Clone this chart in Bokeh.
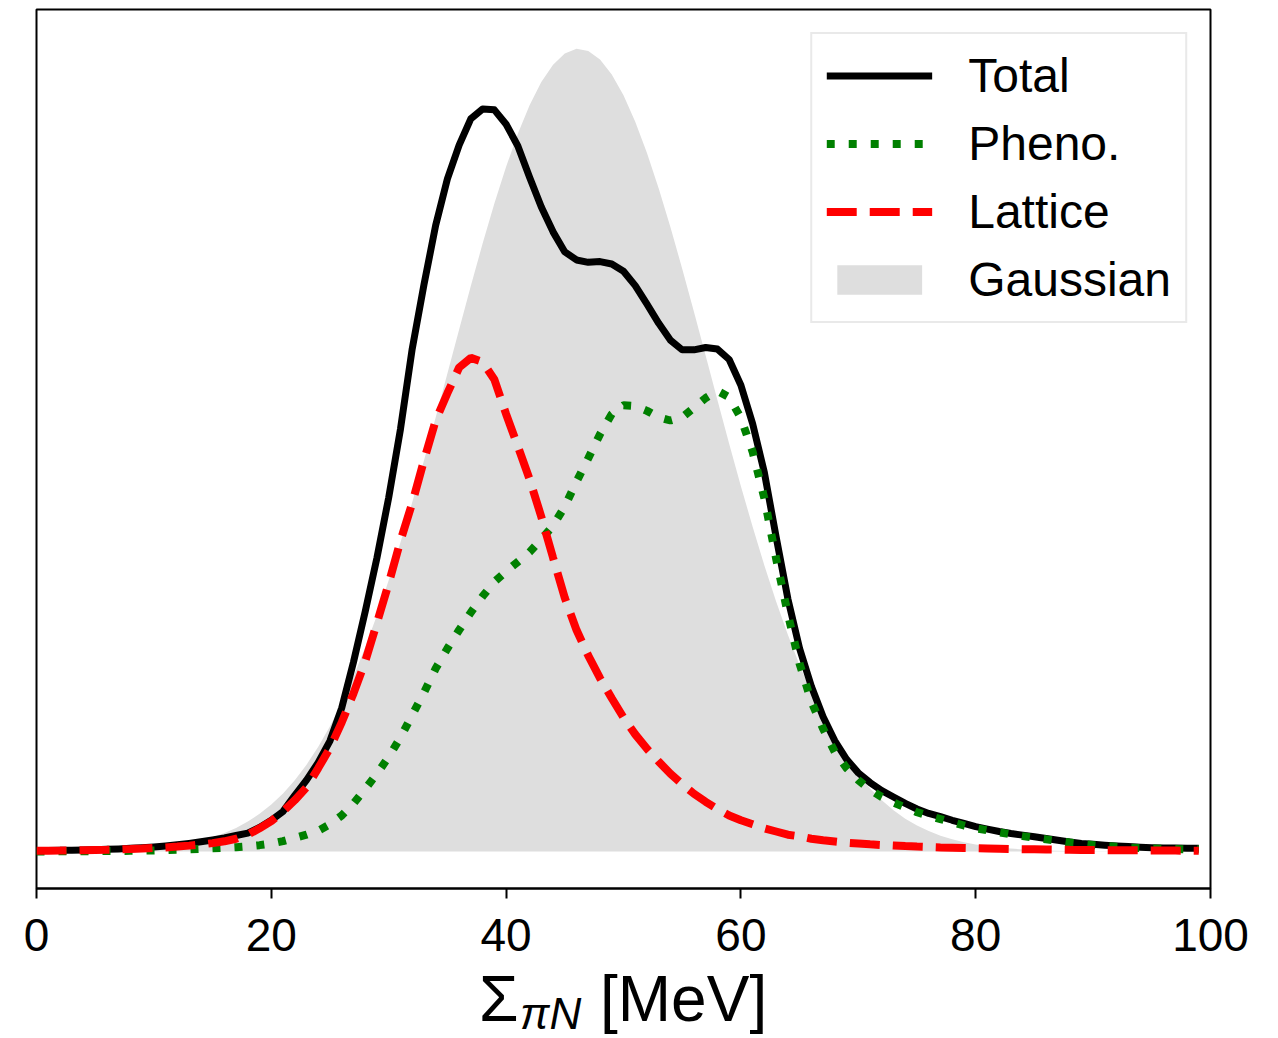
from bokeh.plotting import figure
from bokeh.models import Range1d, FixedTicker, Legend, LegendItem, Div
from bokeh.layouts import column
from bokeh.embed import file_html
from bokeh.resources import INLINE

# ---- data (arbitrary units, Gaussian peak = 1) ----
sigma_x = list(range(0, 100))

total = [0.0012, 0.0013, 0.0015, 0.0017, 0.0020, 0.0024, 0.0028, 0.0033, 0.0040, 0.0048,
         0.0058, 0.0070, 0.0085, 0.0102, 0.0122, 0.0145, 0.0170, 0.0200, 0.0230, 0.0300,
         0.0390, 0.0500, 0.0700, 0.0890, 0.1110, 0.1380, 0.1790, 0.2360, 0.2990, 0.3660,
         0.4410, 0.5260, 0.6260, 0.7060, 0.7800, 0.8380, 0.8800, 0.9130, 0.9250, 0.9240,
         0.9060, 0.8790, 0.8400, 0.8030, 0.7720, 0.7470, 0.7370, 0.7340, 0.7350, 0.7320,
         0.7230, 0.7050, 0.6820, 0.6580, 0.6370, 0.6250, 0.6250, 0.6280, 0.6260, 0.6130,
         0.5810, 0.5330, 0.4720, 0.3920, 0.3150, 0.2530, 0.2060, 0.1680, 0.1380, 0.1150,
         0.0980, 0.0860, 0.0760, 0.0680, 0.0600, 0.0530, 0.0475, 0.0435, 0.0390, 0.0350,
         0.0310, 0.0280, 0.0250, 0.0225, 0.0205, 0.0185, 0.0162, 0.0140, 0.0120, 0.0102,
         0.0090, 0.0080, 0.0071, 0.0062, 0.0054, 0.0049, 0.0046, 0.0043, 0.0041, 0.0040]

pheno = [0.0002, 0.0002, 0.0003, 0.0003, 0.0004, 0.0005, 0.0006, 0.0007, 0.0009, 0.0011,
         0.0014, 0.0018, 0.0023, 0.0028, 0.0034, 0.0040, 0.0046, 0.0054, 0.0065, 0.0080,
         0.0100, 0.0130, 0.0170, 0.0210, 0.0260, 0.0340, 0.0450, 0.0600, 0.0780, 0.0970,
         0.1180, 0.1420, 0.1700, 0.1980, 0.2280, 0.2530, 0.2760, 0.2980, 0.3180, 0.3360,
         0.3490, 0.3610, 0.3730, 0.3890, 0.4060, 0.4300, 0.4610, 0.4900, 0.5200, 0.5450,
         0.5560, 0.5550, 0.5490, 0.5410, 0.5370, 0.5410, 0.5530, 0.5650, 0.5740, 0.5660,
         0.5400, 0.4980, 0.4400, 0.3650, 0.2960, 0.2340, 0.1870, 0.1530, 0.1240, 0.1040,
         0.0890, 0.0770, 0.0680, 0.0610, 0.0550, 0.0490, 0.0445, 0.0405, 0.0365, 0.0325,
         0.0290, 0.0265, 0.0240, 0.0215, 0.0192, 0.0172, 0.0152, 0.0132, 0.0112, 0.0096,
         0.0082, 0.0070, 0.0060, 0.0051, 0.0044, 0.0038, 0.0034, 0.0031, 0.0029, 0.0028]

lattice = [0.0010, 0.0011, 0.0012, 0.0014, 0.0016, 0.0019, 0.0022, 0.0026, 0.0031, 0.0037,
           0.0044, 0.0052, 0.0062, 0.0074, 0.0088, 0.0105, 0.0128, 0.0160, 0.0210, 0.0290,
           0.0380, 0.0500, 0.0640, 0.0800, 0.1040, 0.1290, 0.1610, 0.1970, 0.2370, 0.2850,
           0.3340, 0.3870, 0.4340, 0.4870, 0.5370, 0.5710, 0.6030, 0.6150, 0.6100, 0.5880,
           0.5450, 0.5050, 0.4640, 0.4170, 0.3660, 0.3160, 0.2760, 0.2440, 0.2160, 0.1910,
           0.1670, 0.1460, 0.1280, 0.1120, 0.0970, 0.0840, 0.0720, 0.0620, 0.0530, 0.0450,
           0.0390, 0.0340, 0.0290, 0.0250, 0.0210, 0.0190, 0.0160, 0.0140, 0.0125, 0.0110,
           0.0100, 0.0090, 0.0082, 0.0075, 0.0068, 0.0062, 0.0057, 0.0052, 0.0048, 0.0044,
           0.0041, 0.0038, 0.0035, 0.0032, 0.0030, 0.0028, 0.0026, 0.0024, 0.0022, 0.0021,
           0.0019, 0.0018, 0.0017, 0.0016, 0.0015, 0.0014, 0.0013, 0.0012, 0.0011, 0.0010]

gauss_x = list(range(0, 101))
gauss = [0.0001, 0.0002, 0.0003, 0.0005, 0.0006, 0.0009, 0.0013, 0.0018, 0.0024, 0.0033,
         0.0045, 0.0060, 0.0080, 0.0105, 0.0138, 0.0179, 0.0231, 0.0295, 0.0374, 0.0470,
         0.0587, 0.0725, 0.0889, 0.1082, 0.1305, 0.1561, 0.1852, 0.2181, 0.2544, 0.2945,
         0.3381, 0.3849, 0.4347, 0.4868, 0.5407, 0.5955, 0.6505, 0.7049, 0.7574, 0.8072,
         0.8531, 0.8943, 0.9297, 0.9586, 0.9802, 0.9941, 1.0000, 0.9974, 0.9867, 0.9681,
         0.9421, 0.9092, 0.8702, 0.8261, 0.7777, 0.7261, 0.6724, 0.6176, 0.5625, 0.5081,
         0.4552, 0.4045, 0.3565, 0.3115, 0.2700, 0.2321, 0.1979, 0.1673, 0.1403, 0.1167,
         0.0962, 0.0787, 0.0639, 0.0514, 0.0410, 0.0325, 0.0255, 0.0198, 0.0153, 0.0117,
         0.0089, 0.0067, 0.0050, 0.0037, 0.0027, 0.0020, 0.0014, 0.0010, 0.0007, 0.0005,
         0.0004, 0.0003, 0.0002, 0.0001, 0.0001, 0.0000, 0.0000, 0.0000, 0.0000, 0.0000,
         0.0000]

x_ticks = [0, 20, 40, 60, 80, 100]
legend_labels = ["Total", "Pheno.", "Lattice", "Gaussian"]

FONT = "Liberation Sans"

p = figure(width=1278, height=960, output_backend="svg", toolbar_location=None,
           x_range=Range1d(0, 100), y_range=Range1d(-0.046, 1.049),
           y_axis_location=None,
           min_border_left=36, min_border_right=68, min_border_top=9, min_border_bottom=72)
p.xgrid.visible = False
p.ygrid.visible = False
p.outline_line_color = "black"
p.outline_line_width = 2
p.background_fill_color = "white"
p.border_fill_color = "white"

ax = p.xaxis[0]
ax.ticker = FixedTicker(ticks=x_ticks)
ax.axis_line_width = 2
ax.axis_line_color = "black"
ax.major_tick_line_width = 2
ax.major_tick_line_color = "black"
ax.major_tick_out = 10
ax.major_tick_in = 0
ax.minor_tick_out = 0
ax.minor_tick_in = 0
ax.major_label_text_font = FONT
ax.major_label_text_font_size = "46px"
ax.major_label_text_color = "black"
ax.major_label_standoff = 20

r_gauss = p.varea(x=gauss_x, y1=0, y2=gauss, fill_color="#dedede", fill_alpha=1.0)
r_total = p.line(sigma_x, total, line_color="black", line_width=7, line_join="round")
r_pheno = p.line(sigma_x, pheno, line_color="#008000", line_width=8, line_dash="8 14")
r_latt = p.line(sigma_x, lattice, line_color="#ff0000", line_width=8, line_dash="30 13")

legend = Legend(items=[LegendItem(label=legend_labels[0], renderers=[r_total]),
                       LegendItem(label=legend_labels[1], renderers=[r_pheno]),
                       LegendItem(label=legend_labels[2], renderers=[r_latt]),
                       LegendItem(label=legend_labels[3], renderers=[r_gauss])],
                location="top_right")
legend.margin = 23
legend.padding = 14
legend.spacing = 13
legend.glyph_width = 106
legend.glyph_height = 37
legend.label_height = 37
legend.label_standoff = 36
legend.label_text_font = FONT
legend.label_text_font_size = "48px"
legend.label_text_color = "black"
legend.border_line_color = "#d3d3d3"
legend.border_line_width = 2
legend.background_fill_color = "white"
legend.background_fill_alpha = 0.85
p.add_layout(legend)

# x-axis label: Σ_{πN} [MeV] (real text, set with a subscript)
label_html = (
    '<div style="position:relative;width:1278px;height:78px;'
    'font-family:\'Liberation Sans\',sans-serif;color:#000;">'
    '<span style="position:absolute;left:479px;top:7px;font-size:64px;line-height:64px;'
    'white-space:nowrap;">&Sigma;</span>'
    '<span style="position:absolute;left:520px;top:32px;font-size:44px;line-height:44px;'
    'font-style:italic;white-space:nowrap;">&pi;N</span>'
    '<span style="position:absolute;left:600px;top:7px;font-size:64px;line-height:64px;'
    'white-space:nowrap;">[MeV]</span>'
    '</div>'
)
xlabel = Div(text=label_html, width=1278, height=78, margin=0)

layout = column(p, xlabel, spacing=0)

open("out.html", "w").write(file_html(layout, INLINE))
